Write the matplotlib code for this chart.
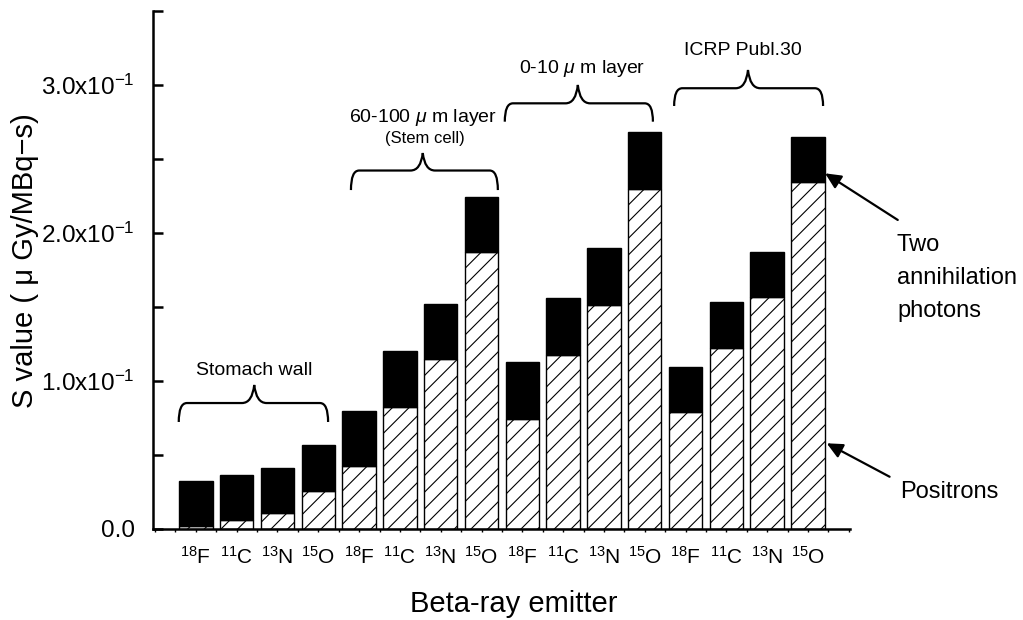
import matplotlib
matplotlib.use('Agg')
import matplotlib.pyplot as plt
from matplotlib.path import Path
from matplotlib.patches import PathPatch
from matplotlib.ticker import MultipleLocator
import numpy as np

plt.rcParams['font.family'] = ['Liberation Sans', 'DejaVu Sans']
plt.rcParams['mathtext.fontset'] = 'custom'
plt.rcParams['mathtext.rm'] = 'Liberation Sans'
plt.rcParams['mathtext.it'] = 'Liberation Sans:italic'
plt.rcParams['hatch.linewidth'] = 0.8

# S values (uGy/MBq-s), four emitters per target region
emitters = ['18F', '11C', '13N', '15O']
regions = ['Stomach wall', '60-100 um layer', '0-10 um layer', 'ICRP Publ.30']
positrons = [0.0020, 0.0061, 0.0106, 0.0259,
             0.0426, 0.0826, 0.1147, 0.1874,
             0.0741, 0.1174, 0.1514, 0.2295,
             0.0793, 0.1225, 0.1566, 0.2343]
photons = [0.0304, 0.0304, 0.0304, 0.0307,
           0.0373, 0.0377, 0.0371, 0.0371,
           0.0387, 0.0387, 0.0387, 0.0387,
           0.0304, 0.0307, 0.0304, 0.0304]

labels = []
for r in regions:
    for e in emitters:
        labels.append(r'$^{%s}$%s' % (e[:2], e[2:]))

x = np.arange(len(positrons))
width = 0.82

fig = plt.figure(figsize=(10.23, 6.2), dpi=100)
ax = fig.add_axes([0.1496, 0.1468, 0.8309 - 0.1496, 0.9823 - 0.1468])

ax.bar(x, positrons, width, color='white', edgecolor='black', hatch='//', linewidth=1.0)
ax.bar(x, photons, width, bottom=positrons, color='black', edgecolor='black', linewidth=1.0)

ax.set_xlim(-1.05, 16.03)
ax.set_ylim(0, 0.35)

for s in ['top', 'right']:
    ax.spines[s].set_visible(False)
for s in ['left', 'bottom']:
    ax.spines[s].set_linewidth(1.8)

yt = np.arange(0, 0.351, 0.05)
ytl = []
for v in yt:
    k = int(round(v * 20))
    if k == 0:
        ytl.append('0.0')
    elif k % 2 == 0:
        ytl.append(r'%d.0x10$^{-1}$' % (k // 2))
    else:
        ytl.append('')
ax.set_yticks(yt)
ax.set_yticklabels(ytl, fontsize=17.5)
ax.tick_params(axis='y', direction='in', length=7, width=1.8, pad=13)

ax.set_xticks(x)
ax.set_xticklabels(labels, fontsize=15)
ax.xaxis.set_minor_locator(MultipleLocator(0.5))
ax.tick_params(axis='x', which='both', direction='out', length=2.5, width=1.0, pad=10)

ax.set_xlabel('Beta-ray emitter', fontsize=21)
ax.xaxis.set_label_coords(0.518, -0.118)
ax.set_ylabel('S value ( \u03bc Gy/MBq\u2212s)', fontsize=21)
ax.yaxis.set_label_coords(-0.163, 0.519)


def brace(ax, x0, x1, xm, y0, y1, y2):
    # curly brace opening downward: ends at y0, shoulder at y1, tip at y2
    r = 0.2
    d = 0.3
    verts = [(x0, y0), (x0, y1), (x0 + r, y1),
             (xm - d, y1),
             (xm - 0.05, y1), (xm, y2),
             (xm + 0.05, y1), (xm + d, y1),
             (x1 - r, y1),
             (x1, y1), (x1, y0)]
    codes = [Path.MOVETO, Path.CURVE3, Path.CURVE3,
             Path.LINETO,
             Path.CURVE3, Path.CURVE3,
             Path.CURVE3, Path.CURVE3,
             Path.LINETO,
             Path.CURVE3, Path.CURVE3]
    ax.add_patch(PathPatch(Path(verts, codes), fill=False, lw=1.6, color='black',
                           clip_on=False))


brace(ax, -0.42, 3.24, 1.43, 0.0723, 0.0851, 0.0973)
brace(ax, 3.80, 7.40, 5.56, 0.2290, 0.2422, 0.2540)
brace(ax, 7.57, 11.20, 9.36, 0.2752, 0.2876, 0.3000)
brace(ax, 11.72, 15.37, 13.53, 0.2858, 0.2978, 0.3101)

ax.text(1.43, 0.1074, 'Stomach wall', fontsize=14, ha='center', va='center')
ax.text(5.56, 0.2777, r'60-100 $\mu$ m layer', fontsize=14, ha='center', va='center')
ax.text(5.61, 0.2635, '(Stem cell)', fontsize=12, ha='center', va='center')
ax.text(9.47, 0.3113, r'0-10 $\mu$ m layer', fontsize=14, ha='center', va='center')
ax.text(13.40, 0.3236, 'ICRP Publ.30', fontsize=14, ha='center', va='center')

arrow = dict(arrowstyle='-|>,head_length=0.95,head_width=0.45', color='black', lw=1.6,
             shrinkA=0, shrinkB=0)
ax.annotate('', xy=(15.42, 0.2403), xytext=(17.2, 0.2088), arrowprops=arrow,
            annotation_clip=False)
ax.annotate('', xy=(15.46, 0.0579), xytext=(17.0, 0.0353), arrowprops=arrow,
            annotation_clip=False)
ax.text(17.18, 0.1696, 'Two\nannihilation\nphotons', fontsize=17, ha='left', va='center',
        linespacing=1.65)
ax.text(17.25, 0.0252, 'Positrons', fontsize=17, ha='left', va='center')

fig.savefig('out.png', dpi=100)
